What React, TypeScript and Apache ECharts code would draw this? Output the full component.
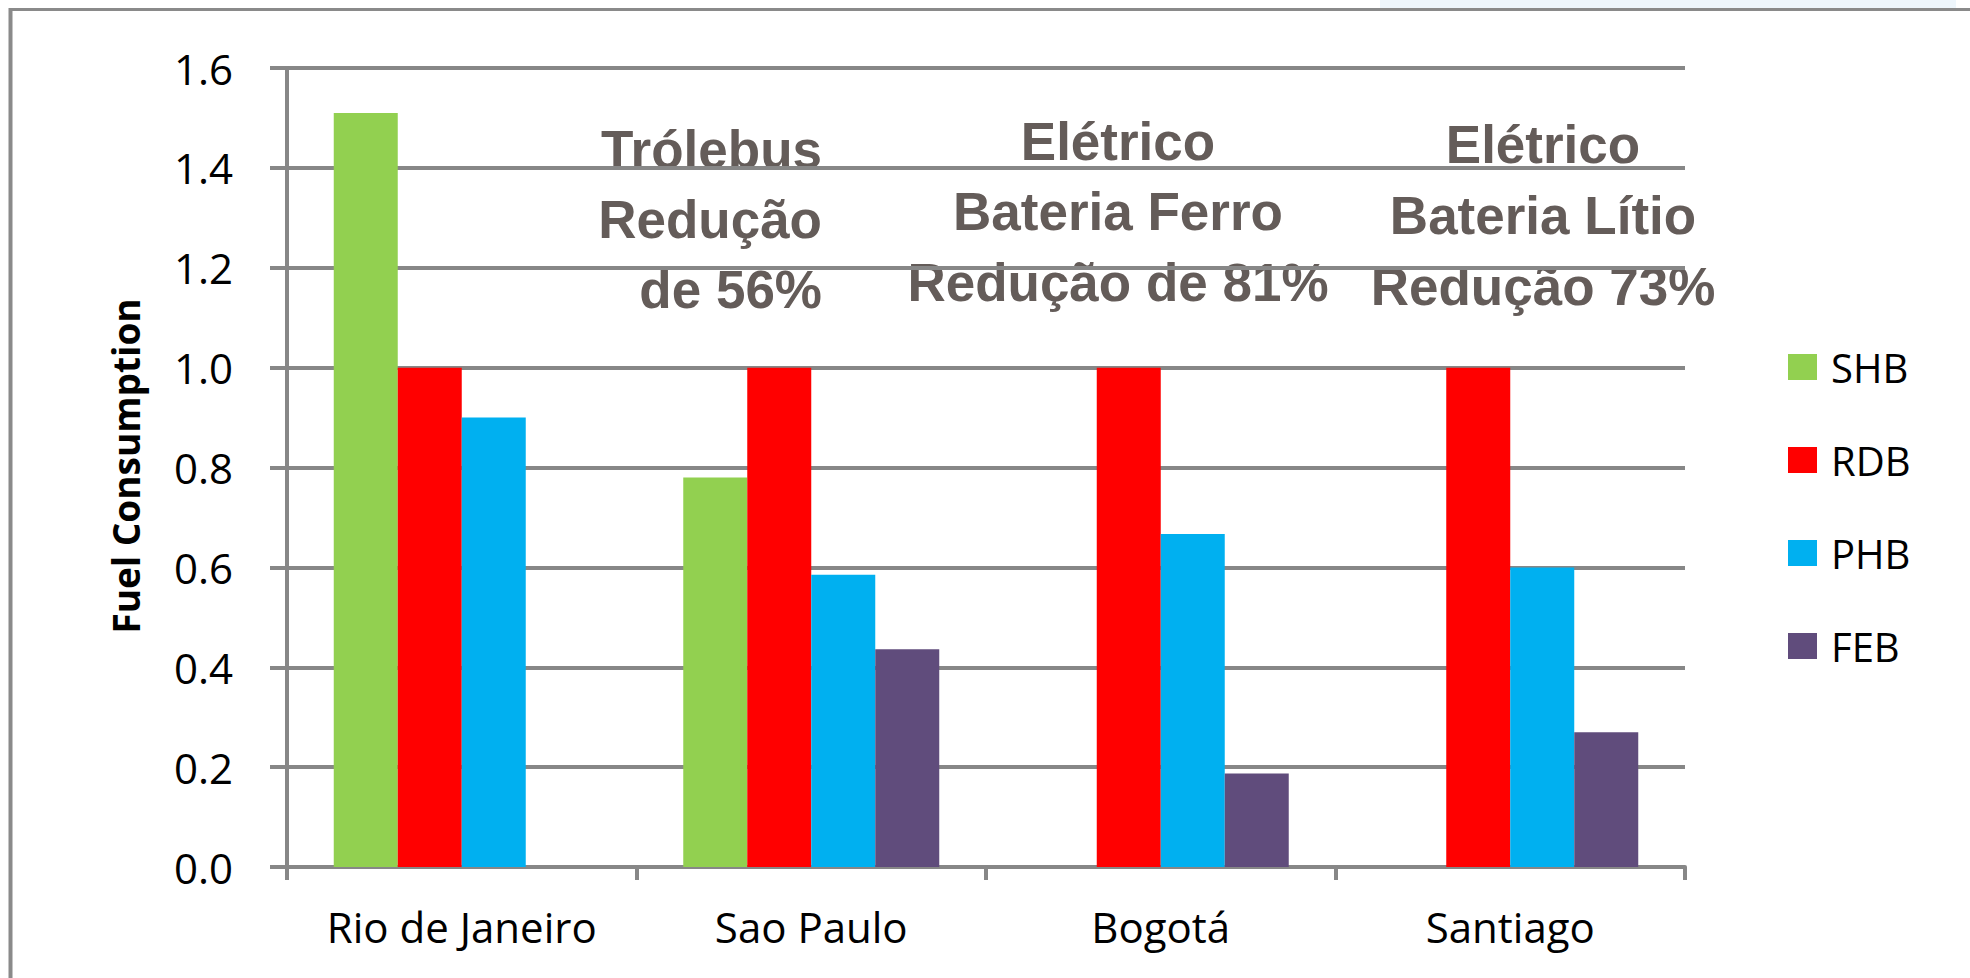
import React, { useEffect, useRef } from "react";
import * as echarts from "echarts";

const categories = ["Rio de Janeiro", "Sao Paulo", "Bogotá", "Santiago"];
const seriesNames = ["SHB", "RDB", "PHB", "FEB"];
const shbValues = [1.51, 0.78, null, null];
const rdbValues = [1.0, 1.0, 1.0, 1.0];
const phbValues = [0.9, 0.585, 0.667, 0.6];
const febValues = [null, 0.436, 0.187, 0.27];
const seriesColors = ["#92d050", "#ff0000", "#00b0f0", "#604c7c"];

const note1 = ["Trólebus", "Redução", "de 56%"];
const note2 = ["Elétrico", "Bateria Ferro", "Redução de 81%"];
const note3 = ["Elétrico", "Bateria Lítio", "Redução 73%"];

const FONT = "'Open Sans', 'Noto Sans', sans-serif";
const NOTE_FONT = "'Liberation Sans', Arial, sans-serif";
const GRAY = "#878787";
const NOTE_COLOR = "#645c59";

export default function App() {
  const ref = useRef<HTMLDivElement>(null);

  useEffect(() => {
    if (!ref.current) return;
    const chart = echarts.init(ref.current, null, { renderer: "svg" });
    const values = [shbValues, rdbValues, phbValues, febValues];

    const noteText = (lines: string[], x: number, baselines: number[], align: string) =>
      lines.map((t, i) => ({
        type: "text",
        x,
        y: baselines[i] - 19,
        style: {
          text: t,
          fill: NOTE_COLOR,
          font: `bold 53px ${NOTE_FONT}`,
          textAlign: align,
          textVerticalAlign: "middle",
        },
      }));

    chart.setOption({
      animation: false,
      backgroundColor: "#ffffff",
      grid: { left: 287, top: 68, width: 1398, height: 799, containLabel: false },
      legend: {
        orient: "vertical",
        left: 1783,
        top: 342,
        itemWidth: 29,
        itemHeight: 26,
        itemGap: 53,
        icon: "rect",
        data: seriesNames,
        textStyle: {
          fontFamily: FONT,
          fontSize: 40,
          lineHeight: 40,
          color: "#000",
          padding: [0, 0, 0, 9],
        },
      },
      xAxis: {
        type: "category",
        data: categories,
        axisLine: { show: true, lineStyle: { color: GRAY, width: 4 } },
        axisTick: { show: true, length: 13, lineStyle: { color: GRAY, width: 4 } },
        axisLabel: {
          fontFamily: FONT,
          fontSize: 42,
          color: "#000",
          margin: 38,
          interval: 0,
        },
      },
      yAxis: {
        type: "value",
        min: 0,
        max: 1.6,
        interval: 0.2,
        axisLine: { show: true, lineStyle: { color: GRAY, width: 4 } },
        axisTick: { show: true, length: 17, lineStyle: { color: GRAY, width: 4 } },
        splitLine: { show: true, lineStyle: { color: GRAY, width: 4 } },
        axisLabel: {
          fontFamily: FONT,
          fontSize: 42,
          color: "#000",
          margin: 54,
          formatter: (v: number) => v.toFixed(1),
        },
      },
      series: seriesNames.map((name, i) => ({
        name,
        type: "bar",
        data: values[i],
        barWidth: 64,
        barGap: "0%",
        itemStyle: { color: seriesColors[i] },
      })),
      graphic: [
        { type: "rect", shape: { x: 1380, y: 0, width: 576, height: 8 }, style: { fill: "#eef6fc" } },
        { type: "line", shape: { x1: 9, y1: 9.5, x2: 1970, y2: 9.5 }, style: { stroke: "#8a8a8a", lineWidth: 3 } },
        { type: "line", shape: { x1: 10.5, y1: 8, x2: 10.5, y2: 978 }, style: { stroke: "#8a8a8a", lineWidth: 4 } },
        {
          type: "text",
          x: 125,
          y: 466,
          rotation: Math.PI / 2,
          style: {
            text: "Fuel Consumption",
            fill: "#000",
            font: `bold 37px ${FONT}`,
            textAlign: "center",
            textVerticalAlign: "middle",
          },
        },
        ...noteText(note1, 822, [168, 238, 308], "right"),
        ...noteText(note2, 1118, [160, 230, 301], "center"),
        ...noteText(note3, 1543, [163, 234, 305], "center"),
      ],
    });

    return () => chart.dispose();
  }, []);

  return (
    <div
      ref={ref}
      style={{ position: "fixed", left: 0, top: 0, width: 1970, height: 978, background: "#fff" }}
    />
  );
}
